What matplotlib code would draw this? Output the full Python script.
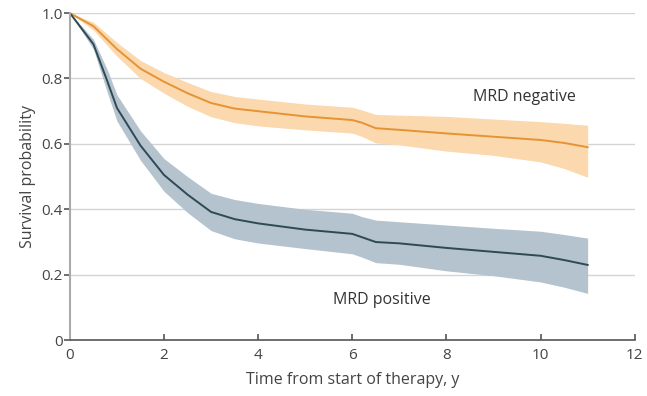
import numpy as np
import matplotlib.pyplot as plt

plt.rcParams['font.family'] = ['Open Sans', 'DejaVu Sans']

# MRD negative curve (time in years, survival, 95% band)
t_neg = [0, 0.5, 1.0, 1.5, 2.0, 2.5, 3.0, 3.5, 4.0, 5.0, 6.0, 6.2, 6.5, 7.0, 8.0, 9.0, 10.0, 10.5, 11.0]
s_neg = [1.0, 0.96, 0.89, 0.83, 0.79, 0.755, 0.725, 0.708, 0.70, 0.684, 0.673, 0.665, 0.648, 0.643, 0.632, 0.622, 0.612, 0.603, 0.59]
lo_neg = [1.0, 0.948, 0.868, 0.8, 0.755, 0.715, 0.683, 0.665, 0.655, 0.643, 0.633, 0.623, 0.603, 0.597, 0.578, 0.565, 0.545, 0.525, 0.498]
hi_neg = [1.0, 0.972, 0.91, 0.855, 0.818, 0.788, 0.76, 0.745, 0.737, 0.722, 0.712, 0.704, 0.69, 0.688, 0.684, 0.676, 0.668, 0.663, 0.657]

# MRD positive curve
t_pos = [0, 0.5, 0.8, 1.0, 1.5, 2.0, 2.5, 3.0, 3.5, 4.0, 5.0, 6.0, 6.2, 6.5, 7.0, 8.0, 9.0, 10.0, 10.5, 11.0]
s_pos = [1.0, 0.905, 0.79, 0.71, 0.595, 0.505, 0.445, 0.392, 0.37, 0.357, 0.338, 0.325, 0.315, 0.30, 0.296, 0.282, 0.27, 0.258, 0.245, 0.23]
lo_pos = [1.0, 0.89, 0.755, 0.67, 0.55, 0.455, 0.39, 0.335, 0.31, 0.297, 0.28, 0.264, 0.254, 0.237, 0.232, 0.212, 0.197, 0.178, 0.162, 0.143]
hi_pos = [1.0, 0.92, 0.825, 0.75, 0.64, 0.555, 0.5, 0.449, 0.43, 0.418, 0.4, 0.388, 0.378, 0.367, 0.362, 0.352, 0.342, 0.333, 0.323, 0.312]

xticks = [0, 2, 4, 6, 8, 10, 12]
yticks = [0, 0.2, 0.4, 0.6, 0.8, 1.0]
ytick_labels = ['0', '0.2', '0.4', '0.6', '0.8', '1.0']

txt = '#444444'

fig = plt.figure(figsize=(6.47, 3.96), dpi=100)
ax = fig.add_axes([0.108, 0.141, 0.873, 0.826])

for y in yticks[1:]:
    ax.axhline(y, color='#d4d4d4', lw=1.0, zorder=0)

ax.fill_between(t_neg, lo_neg, hi_neg, color='#fbd8ad', lw=0, zorder=1)
ax.fill_between(t_pos, lo_pos, hi_pos, color='#b4c3cd', lw=0, zorder=1)
ax.plot(t_neg, s_neg, color='#e49434', lw=1.4, zorder=2)
ax.plot(t_pos, s_pos, color='#2e4a55', lw=1.4, zorder=2)

ax.text(9.66, 0.743, 'MRD negative', ha='center', va='center', fontsize=11.5, color='#333333')
ax.text(6.62, 0.122, 'MRD positive', ha='center', va='center', fontsize=11.5, color='#333333')

ax.set_xlim(0, 12)
ax.set_ylim(0, 1.0)
ax.set_xticks(xticks)
ax.set_yticks(yticks)
ax.set_yticklabels(ytick_labels)
ax.tick_params(axis='x', direction='in', length=4, width=1.2, color='#555555', labelcolor=txt, labelsize=11, pad=6)
ax.tick_params(axis='y', direction='out', length=4, width=1.2, color='#555555', labelcolor=txt, labelsize=11, pad=1)

for s in ['top', 'right']:
    ax.spines[s].set_visible(False)
ax.spines['left'].set_color('#aaaaaa')
ax.spines['left'].set_linewidth(1.5)
ax.spines['bottom'].set_color('#555555')
ax.spines['bottom'].set_linewidth(1.2)

ax.set_xlabel('Time from start of therapy, y', fontsize=11.5, color=txt, labelpad=6)
ax.set_ylabel('Survival probability', fontsize=11.5, color=txt, labelpad=4)

fig.savefig('out.png', dpi=100)
